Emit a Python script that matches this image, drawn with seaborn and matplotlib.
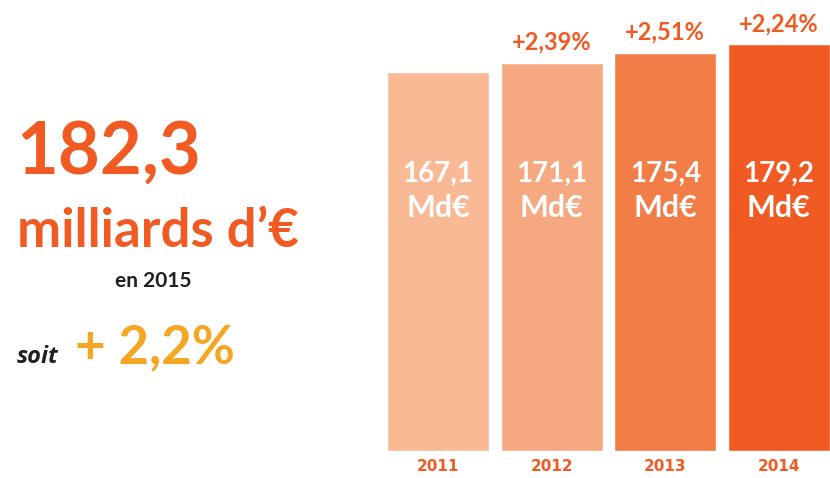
import pandas as pd
import seaborn as sns
from matplotlib import pyplot as plt

# data
years = ["2011", "2012", "2013", "2014"]
values = [167.1, 171.1, 175.4, 179.2]
growth = ["", "+2,39%", "+2,51%", "+2,24%"]
bar_colors = ["#F9B995", "#F6A981", "#F37D47", "#F15A22"]

total_2015 = "182,3"
growth_2015 = "+ 2,2%"

orange = "#F15A22"
yellow = "#F5A623"
dark = "#231F20"

df = pd.DataFrame({"year": years, "value": values})

sns.set_theme(style="white")
plt.rcParams["font.family"] = ["Lato", "DejaVu Sans"]

fig = plt.figure(figsize=(8.3, 4.78), dpi=100)
ax = fig.add_axes([0.4663, 0.0565, 0.5337, 0.9435])

sns.barplot(data=df, x="year", y="value", hue="year", palette=bar_colors,
            width=0.9, legend=False, ax=ax, saturation=1)
ax.set_xlim(-0.45, 3.45)
ax.set_ylim(0, 198.7)
ax.set(xlabel="", ylabel="", yticks=[])
ax.set_xticks(range(len(years)))
ax.set_xticklabels(years, color=orange, fontsize=11, fontweight="bold",
                   family="DejaVu Sans")
ax.tick_params(axis="x", length=0, pad=6)
sns.despine(ax=ax, left=True, bottom=True)

for i, v in enumerate(values):
    txt = f"{v:.1f}".replace(".", ",")
    ax.text(i, 122, txt, ha="center", va="center", color="white",
            fontsize=20, fontweight="bold")
    ax.text(i, 107, "Md€", ha="center", va="center", color="white",
            fontsize=22, fontweight="bold")
    if growth[i]:
        ax.text(i, v + 4, growth[i], ha="center", va="bottom", color=orange,
                fontsize=17, fontweight="bold")

# left side headline
fig.text(0.02, 0.638, total_2015, color=orange, fontsize=52, fontweight="bold",
         ha="left", va="baseline")
fig.text(0.02, 0.483, "milliards d’€", color=orange, fontsize=38,
         fontweight="bold", ha="left", va="baseline")
fig.text(0.231, 0.40, "en 2015", color=dark, fontsize=15, fontweight="bold",
         ha="right", va="baseline")
fig.text(0.02, 0.24, "soit", color=dark, fontsize=17, fontweight="bold",
         style="italic", family=["Open Sans", "DejaVu Sans"],
         ha="left", va="baseline")
fig.text(0.09, 0.24, growth_2015, color=yellow, fontsize=38,
         fontweight="bold", ha="left", va="baseline")

fig.savefig("out.png", dpi=100)
